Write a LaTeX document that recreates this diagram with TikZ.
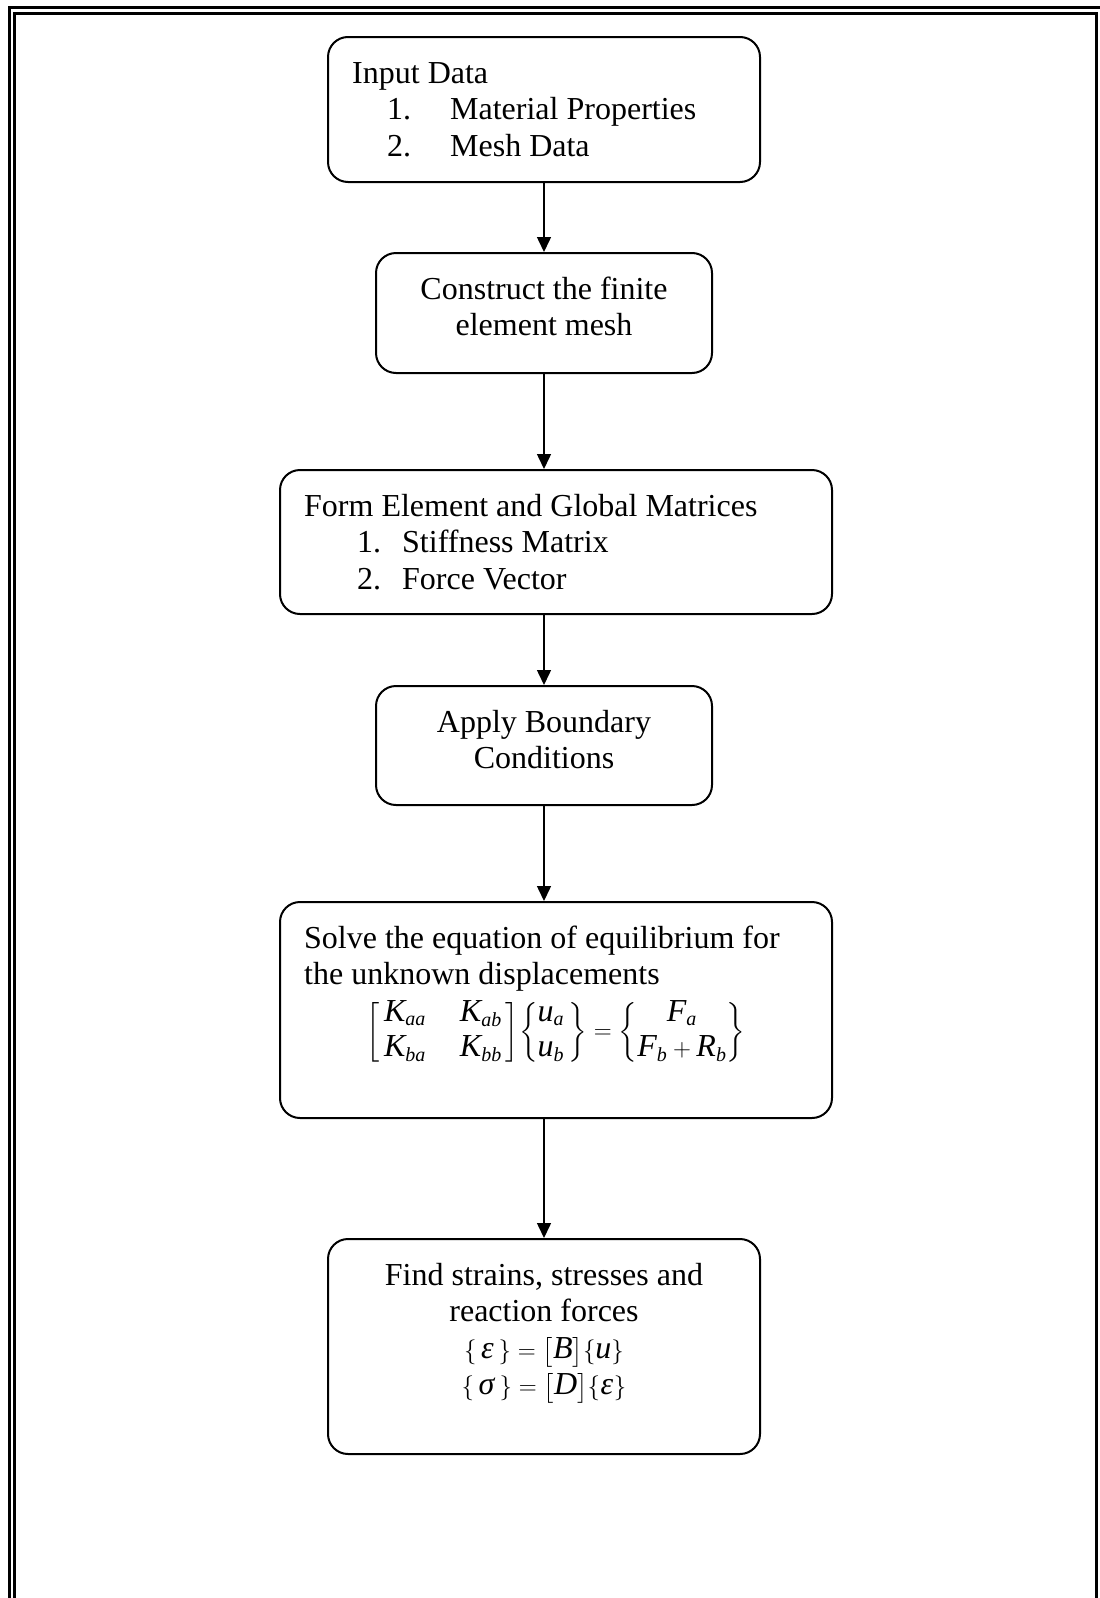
\documentclass[tikz,border=0pt]{standalone}
\usepackage{amsmath}
\usepackage{mathspec}
\setmainfont{Liberation Serif}
\setmathsfont(Digits,Latin,Greek){Liberation Serif}
\DeclareMathSizes{32}{32}{20}{14}
\usetikzlibrary{arrows.meta,positioning}
\tikzset{every node/.style={font=\fontsize{32pt}{36.5pt}\selectfont},
  stepbox/.style={draw, line width=2pt, rounded corners=20pt, inner sep=0pt},
  boxtext/.style={inner sep=0pt, align=left, anchor=north west},
  boxtextc/.style={inner sep=0pt, align=center, anchor=north},
  flow/.style={-{Triangle[length=15pt,width=14pt]}, line width=1.5pt},
  frame/.style={line width=3pt}}
% numbered line inside a box: indent, number, text
\newcommand{\numline}[3]{\hspace*{#1}\makebox[#2][l]{#3}}

\begin{document}
\begin{tikzpicture}[x=1pt,y=-1pt] % one unit is one pixel of the page
  \useasboundingbox (0,0) rectangle (1100,1598);
  \clip (0,0) rectangle (1100,1598);
  % page frame, cut at the right and bottom
  \draw[frame] (9,1620) |- (1120,7);
  \draw[frame] (14.5,1620) |- (1096.5,13) -- (1096.5,1620);

  % the steps
  \node[stepbox, minimum width=432pt, minimum height=145pt] (b1) at (544,109.5) {};
  \node[stepbox, minimum width=336pt, minimum height=120pt] (b2) at (544,313) {};
  \node[stepbox, minimum width=552pt, minimum height=144pt] (b3) at (556,542) {};
  \node[stepbox, minimum width=336pt, minimum height=119pt] (b4) at (544,745.5) {};
  \node[stepbox, minimum width=552pt, minimum height=216pt] (b5) at (556,1010) {};
  \node[stepbox, minimum width=432pt, minimum height=215pt] (b6) at (544,1346.5) {};

  % texts
  \node[boxtext] (t1) at ([xshift=25pt,yshift=-21.5pt]b1.north west)
    {\strut Input Data\\
     \numline{35pt}{63pt}{1.}Material Properties\\
     \numline{35pt}{63pt}{2.}Mesh Data};
  \node[boxtextc] (t2) at ([yshift=-21.5pt]b2.north)
    {\strut Construct the finite\\element mesh};
  \node[boxtext] (t3) at ([xshift=25pt,yshift=-21.5pt]b3.north west)
    {\strut Form Element and Global Matrices\\
     \numline{53pt}{45pt}{1.}Stiffness Matrix\\
     \numline{53pt}{45pt}{2.}Force Vector};
  \node[boxtextc] (t4) at ([yshift=-21.5pt]b4.north)
    {\strut Apply Boundary\\Conditions};
  \node[boxtext] (t5) at ([xshift=25pt,yshift=-21.5pt]b5.north west)
    {\strut Solve the equation of equilibrium for\\the unknown displacements};
  \node[inner sep=0pt] (e5) at (556,1032)
    {\setlength{\arraycolsep}{17pt}\renewcommand{\arraystretch}{0.95}%
     \delimiterfactor=800 \delimitershortfall=20pt
     $\left[\,\begin{matrix} K_{aa} & K_{ab}\\ K_{ba} & K_{bb}\end{matrix}\,\right]\!
      \left\{\begin{matrix} u_a\\ u_b\end{matrix}\,\right\}=
      \left\{\begin{matrix} F_a\\ F_b+R_b\end{matrix}\right\}$};
  \node[boxtextc] (t6) at ([yshift=-21.5pt]b6.north)
    {\strut Find strains, stresses and\\reaction forces\\
     $\left\{\,\epsilon\,\right\}=\left[B\right]\!\left\{u\right\}$\\
     $\left\{\,\sigma\,\right\}=\left[D\right]\!\left\{\epsilon\right\}$};

  % connectors
  \draw[flow] (b1) -- (b2);
  \draw[flow] (b2) -- (b2 |- b3.north);
  \draw[flow] (b4.north |- b3.south) -- (b4);
  \draw[flow] (b4) -- (b4 |- b5.north);
  \draw[flow] (b6.north |- b5.south) -- (b6);
\end{tikzpicture}
\end{document}
